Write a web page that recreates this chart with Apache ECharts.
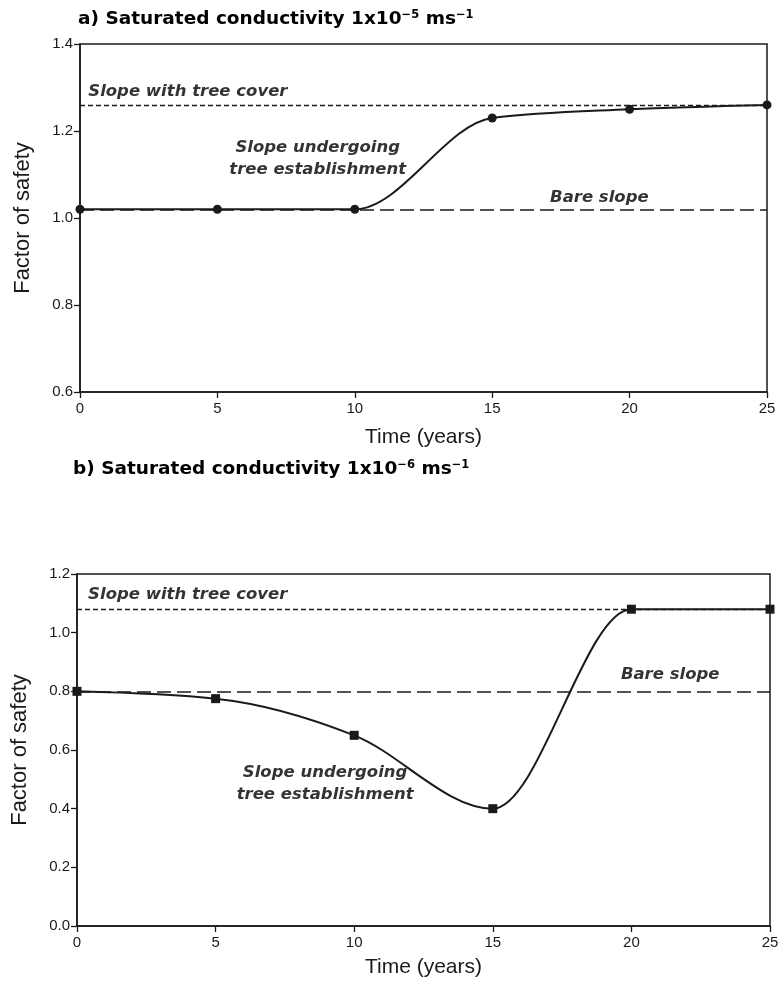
<!DOCTYPE html>
<html>
<head>
<meta charset="utf-8">
<script src="https://cdn.jsdelivr.net/npm/echarts@6/dist/echarts.min.js"></script>
<style>
  html, body { margin: 0; padding: 0; background: #fff; }
  #chart { width: 784px; height: 984px; }
</style>
</head>
<body>
<div id="chart"></div>
<script>
// time axis (years)
var years = [0, 5, 10, 15, 20, 25];
// a) Ks = 1x10^-5 m/s
var fosA = [1.02, 1.02, 1.02, 1.23, 1.25, 1.26];
var treeA = 1.26;
var bareA = 1.02;
// b) Ks = 1x10^-6 m/s
var fosB = [0.80, 0.775, 0.65, 0.40, 1.08, 1.08];
var treeB = 1.08;
var bareB = 0.80;
// tick ranges
var ticksA = [0.6, 0.8, 1.0, 1.2, 1.4];
var ticksB = [0.0, 0.2, 0.4, 0.6, 0.8, 1.0, 1.2];
// annotation text, placed in data units
var notesA = [
    {name: 'Slope with tree cover', value: [0.3, 1.291], align: 'left'},
    {name: 'Slope undergoing\ntree establishment', value: [8.65, 1.137], align: 'center'},
    {name: 'Bare slope', value: [18.9, 1.046], align: 'center'}
];
var notesB = [
    {name: 'Slope with tree cover', value: [0.4, 1.131], align: 'left'},
    {name: 'Slope undergoing\ntree establishment', value: [8.95, 0.484], align: 'center'},
    {name: 'Bare slope', value: [21.4, 0.855], align: 'center'}
];

var ink = '#1a1a1a';
var font = 'Liberation Sans';
var noteFont = 'DejaVu Sans';

function pairs(xs, ys) {
    var res = [];
    for (var i = 0; i < xs.length; i++) {
        res.push([xs[i], ys[i]]);
    }
    return res;
}

function noteData(list) {
    return list.map(function (n) {
        return {name: n.name, value: n.value, label: {align: n.align}};
    });
}

function sign(v) { return v < 0 ? -1 : 1; }

// monotone cubic tangents (same idea as d3 curveMonotoneX), in pixel space
function tangents(pts) {
    var n = pts.length, s = [], m = [];
    for (var i = 0; i < n - 1; i++) {
        s.push((pts[i + 1][1] - pts[i][1]) / (pts[i + 1][0] - pts[i][0]));
    }
    for (var i = 1; i < n - 1; i++) {
        var h0 = pts[i][0] - pts[i - 1][0], h1 = pts[i + 1][0] - pts[i][0];
        var s0 = s[i - 1], s1 = s[i];
        var p = (s0 * h1 + s1 * h0) / (h0 + h1);
        if (s0 === 0 || s1 === 0) {
            m[i] = 0;
        } else {
            m[i] = (sign(s0) + sign(s1)) * Math.min(Math.abs(s0), Math.abs(s1), 0.5 * Math.abs(p));
        }
    }
    m[0] = (3 * s[0] - m[1]) / 2;
    m[n - 1] = (3 * s[n - 2] - m[n - 2]) / 2;
    return m;
}

function curveRenderer(ys) {
    return function (params, api) {
        var i = params.dataIndex;
        if (i >= years.length - 1) return null;
        var pts = [];
        for (var k = 0; k < years.length; k++) {
            pts.push(api.coord([years[k], ys[k]]));
        }
        var m = tangents(pts);
        var a = pts[i], b = pts[i + 1], h = (b[0] - a[0]) / 3;
        return {
            type: 'bezierCurve',
            shape: {
                x1: a[0], y1: a[1],
                cpx1: a[0] + h, cpy1: a[1] + m[i] * h,
                cpx2: b[0] - h, cpy2: b[1] - m[i + 1] * h,
                x2: b[0], y2: b[1]
            },
            style: {fill: null, stroke: ink, lineWidth: 2}
        };
    };
}

function xAxisFor(idx) {
    return {
        type: 'value', gridIndex: idx, min: 0, max: 25, interval: 5,
        name: 'Time (years)', nameLocation: 'middle', nameGap: idx == 0 ? 35 : 31,
        nameTextStyle: {fontFamily: font, fontSize: 21, color: ink},
        axisLine: {lineStyle: {color: ink, width: 1.5}},
        axisTick: {length: 6, lineStyle: {color: ink, width: 1.3}},
        axisLabel: {fontFamily: font, fontSize: 15, color: ink, margin: 9},
        splitLine: {show: false}
    };
}

function yAxisFor(idx, ticks) {
    return {
        type: 'value', gridIndex: idx, min: ticks[0], max: ticks[ticks.length - 1], interval: 0.2,
        name: 'Factor of safety', nameLocation: 'middle', nameGap: 46,
        nameTextStyle: {fontFamily: font, fontSize: 22, color: ink},
        axisLine: {show: true, lineStyle: {color: ink, width: 1.5}},
        axisTick: {show: true, length: 6, lineStyle: {color: ink, width: 1.3}},
        axisLabel: {fontFamily: font, fontSize: 15, color: ink, margin: 7,
            formatter: function (v) { return v.toFixed(1); }},
        splitLine: {show: false}
    };
}

function refLines(tree, bare) {
    return {
        silent: true,
        symbol: 'none',
        label: {show: false},
        data: [
            {yAxis: tree, lineStyle: {type: [5, 3], width: 1.3, color: ink}},
            {yAxis: bare, lineStyle: {type: [14, 6], width: 1.6, color: ink}}
        ]
    };
}

var noteLabel = {
    show: true, position: 'inside', formatter: '{b}',
    fontFamily: noteFont, fontStyle: 'italic', fontWeight: 'bold',
    fontSize: 16.5, lineHeight: 22, color: '#000'
};

var titleStyle = {
    fontFamily: noteFont, fontWeight: 'bold', fontSize: 18.5, color: '#000',
    rich: {sup: {fontFamily: noteFont, fontWeight: 'bold', fontSize: 11.5, color: '#000', padding: [0, 0, 9, 0]}}
};

var chart = echarts.init(document.getElementById('chart'));
var option = {
    backgroundColor: '#fff',
    animation: false,
    title: [
        {text: 'a) Saturated conductivity 1x10{sup|−5} ms{sup|−1}', left: 73, top: 4, textStyle: titleStyle},
        {text: 'b) Saturated conductivity 1x10{sup|−6} ms{sup|−1}', left: 68, top: 454, textStyle: titleStyle}
    ],
    grid: [
        {left: 80, right: 17, top: 44, height: 348, show: true, borderColor: ink, borderWidth: 1.5, backgroundColor: 'transparent'},
        {left: 77, right: 14, top: 574, height: 352, show: true, borderColor: ink, borderWidth: 1.5, backgroundColor: 'transparent'}
    ],
    xAxis: [xAxisFor(0), xAxisFor(1)],
    yAxis: [yAxisFor(0, ticksA), yAxisFor(1, ticksB)],
    series: [
        {
            name: 'curveA', type: 'custom', xAxisIndex: 0, yAxisIndex: 0,
            data: pairs(years, fosA), renderItem: curveRenderer(fosA), silent: true, z: 2
        },
        {
            name: 'curveB', type: 'custom', xAxisIndex: 1, yAxisIndex: 1,
            data: pairs(years, fosB), renderItem: curveRenderer(fosB), silent: true, z: 2
        },
        {
            name: 'a', type: 'line', xAxisIndex: 0, yAxisIndex: 0,
            data: pairs(years, fosA),
            symbol: 'circle', symbolSize: 9,
            itemStyle: {color: ink},
            lineStyle: {opacity: 0},
            markLine: refLines(treeA, bareA),
            z: 3
        },
        {
            name: 'b', type: 'line', xAxisIndex: 1, yAxisIndex: 1,
            data: pairs(years, fosB),
            symbol: 'rect', symbolSize: 9,
            itemStyle: {color: ink},
            lineStyle: {opacity: 0},
            markLine: refLines(treeB, bareB),
            z: 3
        },
        {
            name: 'notesA', type: 'scatter', xAxisIndex: 0, yAxisIndex: 0,
            symbolSize: 0, silent: true, label: noteLabel,
            data: noteData(notesA)
        },
        {
            name: 'notesB', type: 'scatter', xAxisIndex: 1, yAxisIndex: 1,
            symbolSize: 0, silent: true, label: noteLabel,
            data: noteData(notesB)
        }
    ]
};
chart.setOption(option);
</script>
</body>
</html>
